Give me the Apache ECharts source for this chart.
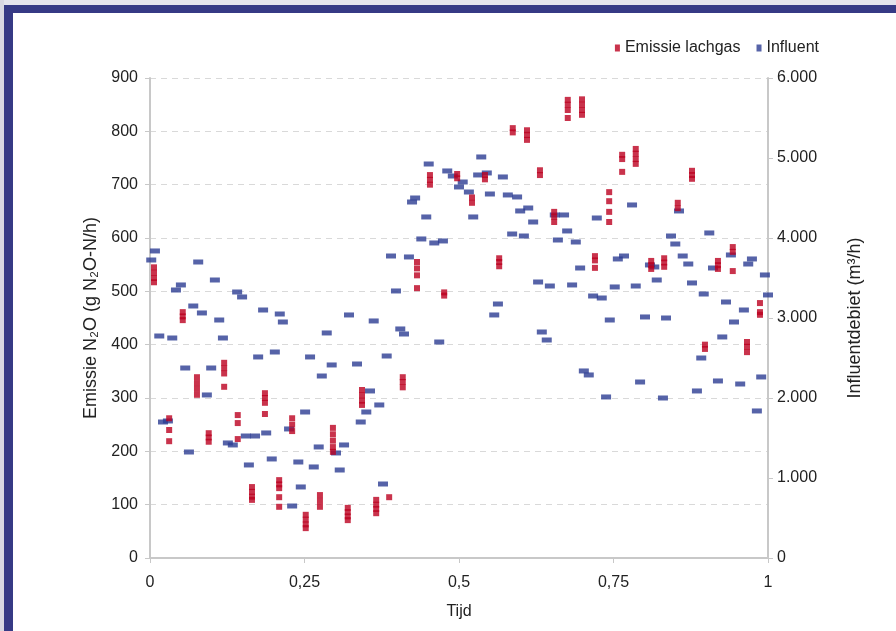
<!DOCTYPE html>
<html>
<head>
<meta charset="utf-8">
<script src="https://cdn.jsdelivr.net/npm/echarts@6/dist/echarts.min.js"></script>
<style>
    html, body { margin: 0; padding: 0; background: #fff; }
    #chart { width: 896px; height: 631px; }
</style>
</head>
<body>
<div id="chart"></div>
<script>
// Emissie lachgas: elke meting is een klein stapeltje punten op hetzelfde tijdstip
var emissieTijd = [0.0065, 0.031, 0.053, 0.076, 0.095, 0.120, 0.142, 0.165, 0.186, 0.209,
    0.230, 0.252, 0.275, 0.296, 0.320, 0.343, 0.366, 0.387, 0.409, 0.432,
    0.453, 0.476, 0.497, 0.521, 0.542, 0.565, 0.587, 0.610, 0.631, 0.654,
    0.676, 0.699, 0.720, 0.743, 0.764, 0.786, 0.811, 0.832, 0.854, 0.877,
    0.898, 0.919, 0.943, 0.966, 0.987];
var emissieWaarden = [
    [545, 535, 525, 517], [262, 240, 219], [461, 453, 446], [339, 328, 317, 306], [234, 226, 218],
    [366, 356, 346, 321], [268, 253, 223], [133, 124, 115, 109], [309, 300, 291, 270], [146, 138, 131, 114, 96],
    [262, 250, 238], [81, 72, 63, 56], [118, 107, 96], [244, 232, 220, 208, 199], [94, 86, 78, 71],
    [315, 305, 295, 287], [109, 100, 92, 84], [114], [339, 330, 320], [555, 543, 530, 506],
    [718, 709, 700], [498, 492], [720, 712], [676, 666], [718, 710],
    [562, 555, 547], [806, 798], [802, 793, 784], [727, 718], [649, 640, 630],
    [859, 850, 840, 825], [860, 850, 840, 831], [566, 558, 544], [686, 669, 649, 630], [756, 748, 724],
    [767, 758, 748, 739], [557, 549, 542], [562, 554, 546], [666, 656], [726, 718, 711],
    [400, 392], [557, 549, 542], [583, 574, 538], [405, 396, 386], [478, 461, 456]
];

// Influent (m3/h)
var influentTijd = [0.002, 0.008, 0.015, 0.021, 0.029, 0.036, 0.042, 0.050, 0.057, 0.063,
    0.070, 0.078, 0.084, 0.092, 0.099, 0.105, 0.112, 0.118, 0.126, 0.134,
    0.141, 0.149, 0.155, 0.160, 0.170, 0.175, 0.183, 0.188, 0.197, 0.202,
    0.210, 0.215, 0.225, 0.230, 0.240, 0.244, 0.251, 0.259, 0.265, 0.273,
    0.278, 0.286, 0.294, 0.301, 0.307, 0.314, 0.322, 0.335, 0.341, 0.350,
    0.356, 0.362, 0.371, 0.377, 0.383, 0.390, 0.398, 0.405, 0.411, 0.419,
    0.424, 0.429, 0.439, 0.447, 0.451, 0.460, 0.468, 0.474, 0.481, 0.490,
    0.500, 0.506, 0.516, 0.523, 0.531, 0.536, 0.545, 0.550, 0.557, 0.563,
    0.571, 0.579, 0.586, 0.594, 0.599, 0.605, 0.612, 0.620, 0.628, 0.634,
    0.642, 0.647, 0.655, 0.660, 0.670, 0.675, 0.683, 0.689, 0.696, 0.702,
    0.710, 0.717, 0.723, 0.731, 0.738, 0.744, 0.752, 0.757, 0.767, 0.780,
    0.786, 0.793, 0.801, 0.809, 0.816, 0.820, 0.830, 0.835, 0.843, 0.850,
    0.856, 0.862, 0.871, 0.877, 0.885, 0.892, 0.896, 0.905, 0.911, 0.919,
    0.926, 0.932, 0.940, 0.945, 0.955, 0.961, 0.968, 0.974, 0.982, 0.989,
    0.995, 1.0];
var influentDebiet = [3725, 3838, 2775, 1700, 1713, 2750, 3350, 3413, 2375, 1325,
    3150, 3700, 3063, 2038, 2375, 3475, 2975, 2750, 1438, 1413,
    3325, 3263, 1525, 1163, 1525, 2513, 3100, 1563, 1238, 2575,
    3050, 2950, 1613, 650, 1200, 888, 1825, 2513, 1138, 1388,
    2275, 2813, 2413, 1313, 1100, 1413, 3038, 2425, 1700, 1825,
    2088, 2963, 1913, 925, 2525, 3775, 3338, 2863, 2800, 3763,
    4450, 4500, 3988, 4263, 4925, 3938, 2700, 3963, 4838, 4775,
    4638, 4700, 4575, 4263, 4788, 5013, 4813, 4550, 3038, 3175,
    4763, 4538, 4050, 4513, 4338, 4025, 4375, 4200, 3450, 2825,
    2725, 3400, 4288, 3975, 4288, 4088, 3413, 3950, 3625, 2338,
    2288, 3275, 4250, 3250, 2013, 2975, 3388, 3738, 3775, 4413,
    3400, 2200, 3013, 3663, 3638, 3475, 2000, 3000, 4025, 3925,
    4338, 3775, 3675, 3438, 2088, 2500, 3300, 4063, 3625, 2213,
    2763, 3200, 3788, 2950, 2175, 3100, 3675, 3738, 1838, 2263,
    3538, 3288];

var emissieData = [];
emissieTijd.forEach(function (t, i) {
    emissieWaarden[i].forEach(function (v) {
        emissieData.push([t, v]);
    });
});
var influentData = influentTijd.map(function (t, i) {
    return [t, influentDebiet[i]];
});

var myChart = echarts.init(document.getElementById('chart'));
var fontFamily = '"Liberation Sans", Arial, sans-serif';
var option = {
    backgroundColor: '#fff',
    textStyle: { fontFamily: fontFamily },
    // blauwe kader links en boven
    graphic: [
        { type: 'rect', left: 0, top: 0, shape: { width: 896, height: 5 }, style: { fill: '#e4e4ec' } },
        { type: 'rect', left: 0, top: 0, shape: { width: 4, height: 631 }, style: { fill: '#d8d8e2' } },
        { type: 'rect', left: 4, top: 5, shape: { width: 892, height: 8 }, style: { fill: '#363a85' } },
        { type: 'rect', left: 4, top: 5, shape: { width: 9, height: 626 }, style: { fill: '#363a85' } }
    ],
    legend: {
        right: 72,
        top: 35,
        icon: 'rect',
        itemWidth: 5,
        itemHeight: 7,
        itemGap: 16,
        textStyle: { fontSize: 16, color: '#222', fontFamily: fontFamily },
        data: ['Emissie lachgas', 'Influent']
    },
    grid: { left: 150, right: 128, top: 78, bottom: 73 },
    xAxis: {
        type: 'value',
        min: 0,
        max: 1,
        interval: 0.25,
        name: 'Tijd',
        nameLocation: 'middle',
        nameGap: 46,
        nameTextStyle: { fontSize: 16, color: '#222' },
        axisLine: { lineStyle: { color: '#c8c8c8', width: 2 } },
        axisTick: { show: true, length: 5, lineStyle: { color: '#c8c8c8' } },
        splitLine: { show: false },
        axisLabel: {
            fontSize: 16, color: '#222', margin: 17,
            formatter: function (v) { return String(v).replace('.', ','); }
        }
    },
    yAxis: [{
        type: 'value',
        min: 0,
        max: 900,
        interval: 100,
        name: 'Emissie N₂O (g N₂O-N/h)',
        nameLocation: 'middle',
        nameGap: 43,
        nameTextStyle: { fontSize: 18, color: '#222' },
        axisLine: { show: true, lineStyle: { color: '#c8c8c8', width: 2 } },
        axisTick: { show: true, length: 5, lineStyle: { color: '#c8c8c8' } },
        axisLabel: { fontSize: 16, color: '#222', margin: 12 },
        splitLine: { lineStyle: { color: '#d9d9d9', type: [6, 5] } }
    }, {
        type: 'value',
        min: 0,
        max: 6000,
        interval: 1000,
        name: 'Influentdebiet (m³/h)',
        nameLocation: 'middle',
        nameGap: 78,
        nameRotate: 90,
        nameTextStyle: { fontSize: 18, color: '#222' },
        axisLine: { show: true, lineStyle: { color: '#c8c8c8', width: 2 } },
        axisTick: { show: true, length: 5, lineStyle: { color: '#c8c8c8' } },
        axisLabel: {
            fontSize: 16, color: '#222', margin: 9,
            formatter: function (v) { return v === 0 ? '0' : (v / 1000) + '.000'; }
        },
        splitLine: { show: false }
    }],
    series: [{
        name: 'Influent',
        type: 'scatter',
        yAxisIndex: 1,
        symbol: 'rect',
        symbolSize: [10, 5],
        itemStyle: { color: '#2c3c92' },
        data: influentData
    }, {
        name: 'Emissie lachgas',
        type: 'scatter',
        yAxisIndex: 0,
        symbol: 'rect',
        symbolSize: [6, 6],
        itemStyle: { color: '#bb001f' },
        data: emissieData
    }]
};
myChart.setOption(option);
</script>
</body>
</html>
